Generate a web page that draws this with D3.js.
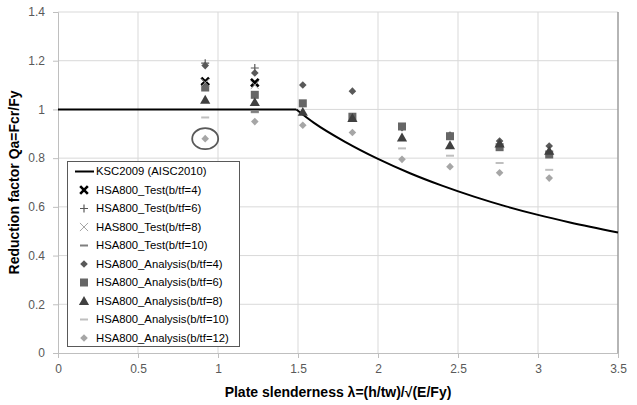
<!DOCTYPE html>
<html lang="en">
<head>
<meta charset="UTF-8">
<title>Reduction factor</title>
<script src="https://d3js.org/d3.v7.min.js"></script>
<style>
  body { margin: 0; background: #fff; }
  text { font-family: "Liberation Sans", Arial, sans-serif; }
  .tick text { fill: #595959; font-size: 12px; }
  .grid line { stroke: #d9d9d9; stroke-width: 1; }
  .axis-title { font-weight: bold; font-size: 14px; fill: #000; }
  .legend text { font-size: 11.3px; fill: #000; }
</style>
</head>
<body>
<div id="chart"></div>
<script>
// DATA
const xTicks = [0, 0.5, 1, 1.5, 2, 2.5, 3, 3.5];
const yTicks = [0, 0.2, 0.4, 0.6, 0.8, 1, 1.2, 1.4];

// KSC2009 (AISC2010) design curve: flat part, then the falling part
const kscFlatLambda = [0, 1.49];
const kscFlatQ      = [1, 1];
const kscLambda = [1.49, 1.6, 1.8, 2.0, 2.2, 2.4, 2.6, 2.8, 3.0, 3.2, 3.5];
const kscQ      = [1, 0.945, 0.865, 0.797, 0.738, 0.687, 0.642, 0.602, 0.567, 0.536, 0.495];

// test results
const testLambda = [0.92, 1.23];
const testB4  = [1.115, 1.11];
const testB6  = [1.19, 1.17];
const testB8  = [1.11, 1.10];
const testB10 = [null, 0.99];

// analysis results
const anaLambda = [0.92, 1.23, 1.53, 1.84, 2.15, 2.45, 2.76, 3.07];
const anaB4  = [1.18, 1.15, 1.10, 1.075, 0.925, 0.895, 0.87, 0.85];
const anaB6  = [1.09, 1.06, 1.025, 0.97, 0.93, 0.89, 0.845, 0.815];
const anaB8  = [1.04, 1.03, 0.99, 0.965, 0.885, 0.853, 0.86, 0.83];
const anaB10 = [0.967, 0.988, null, null, 0.84, 0.81, 0.78, 0.752];
const anaB12 = [0.88, 0.95, 0.935, 0.905, 0.795, 0.765, 0.74, 0.718];

// circled point
const circled = [0.92, 0.88];

// SETUP
const width = 637, height = 405;
const margin = {left: 58, right: 19, top: 12, bottom: 52};

const svg = d3.select("#chart").append("svg")
  .attr("width", width).attr("height", height);

const x = d3.scaleLinear().domain([0, 3.5]).range([margin.left, width - margin.right]);
const y = d3.scaleLinear().domain([0, 1.4]).range([height - margin.bottom, margin.top]);

// gridlines
svg.append("g").attr("class", "grid")
  .selectAll("line").data(yTicks.slice(1)).join("line")
  .attr("x1", x(0)).attr("x2", x(3.5))
  .attr("y1", d => y(d)).attr("y2", d => y(d));
svg.append("g").attr("class", "grid")
  .selectAll("line").data(xTicks.slice(1)).join("line")
  .attr("y1", y(0)).attr("y2", y(1.4))
  .attr("x1", d => x(d)).attr("x2", d => x(d));
// right edge looks darker in the original
svg.append("line")
  .attr("x1", x(3.5)).attr("x2", x(3.5)).attr("y1", y(0)).attr("y2", y(1.4))
  .attr("stroke", "#7f7f7f");

// AXES
const xAxis = svg.append("g")
  .attr("transform", "translate(0," + y(0) + ")")
  .call(d3.axisBottom(x).tickValues(xTicks).tickFormat(d3.format("")).tickSize(5).tickPadding(6));
const yAxis = svg.append("g")
  .attr("transform", "translate(" + x(0) + ",0)")
  .call(d3.axisLeft(y).tickValues(yTicks).tickFormat(d3.format("")).tickSize(5).tickPadding(8));
[xAxis, yAxis].forEach(a => {
  a.select(".domain").attr("stroke", "#bfbfbf");
  a.selectAll(".tick line").attr("stroke", "#bfbfbf");
  a.selectAll(".tick text").attr("font-family", "Liberation Sans, Arial, sans-serif");
});

// axis titles
svg.append("text").attr("class", "axis-title")
  .attr("x", (x(0) + x(3.5)) / 2).attr("y", 397)
  .attr("text-anchor", "middle")
  .text("Plate slenderness \u03BB=(h/tw)/\u221A(E/Fy)");
svg.append("text").attr("class", "axis-title")
  .attr("transform", "translate(19," + ((y(0) + y(1.4)) / 2) + ") rotate(-90)")
  .attr("text-anchor", "middle")
  .text("Reduction factor Qa=Fcr/Fy");

// MARKERS
const sym = (type, size) => d3.symbol().type(type).size(size)();
const diamond = r => "M0," + (-r) + "L" + r + ",0L0," + r + "L" + (-r) + ",0Z";
const markers = {
  xbold:   g => g.append("path").attr("d", sym(d3.symbolX, 40)).attr("stroke", "#000").attr("stroke-width", 2.6).attr("fill", "none"),
  plus:    g => g.append("path").attr("d", "M-4,0H4M0,-4V4").attr("stroke", "#595959").attr("stroke-width", 1.2).attr("fill", "none"),
  xthin:   g => g.append("path").attr("d", sym(d3.symbolX, 45)).attr("stroke", "#a6a6a6").attr("stroke-width", 1).attr("fill", "none"),
  dashDk:  g => g.append("line").attr("x1", -4).attr("x2", 4).attr("stroke", "#7f7f7f").attr("stroke-width", 2),
  diaDk:   g => g.append("path").attr("d", diamond(3.8)).attr("fill", "#595959"),
  square:  g => g.append("rect").attr("x", -4).attr("y", -4).attr("width", 8).attr("height", 8).attr("fill", "#666666"),
  tri:     g => g.append("path").attr("d", sym(d3.symbolTriangle, 45)).attr("transform", "translate(0,1)").attr("fill", "#404040"),
  dashLt:  g => g.append("line").attr("x1", -4).attr("x2", 4).attr("stroke", "#bfbfbf").attr("stroke-width", 2),
  diaLt:   g => g.append("path").attr("d", diamond(3.8)).attr("fill", "#a6a6a6")
};

const series = [
  {name: "HSA800_Analysis(b/tf=4)",  xs: anaLambda,  ys: anaB4,  m: "diaDk"},
  {name: "HSA800_Analysis(b/tf=6)",  xs: anaLambda,  ys: anaB6,  m: "square"},
  {name: "HSA800_Analysis(b/tf=8)",  xs: anaLambda,  ys: anaB8,  m: "tri"},
  {name: "HSA800_Analysis(b/tf=10)", xs: anaLambda,  ys: anaB10, m: "dashLt"},
  {name: "HSA800_Analysis(b/tf=12)", xs: anaLambda,  ys: anaB12, m: "diaLt"},
  {name: "HSA800_Test(b/tf=4)",      xs: testLambda, ys: testB4,  m: "xbold"},
  {name: "HSA800_Test(b/tf=6)",      xs: testLambda, ys: testB6,  m: "plus"},
  {name: "HAS800_Test(b/tf=8)",      xs: testLambda, ys: testB8,  m: "xthin"},
  {name: "HSA800_Test(b/tf=10)",     xs: testLambda, ys: testB10, m: "dashDk"}
];

// design curve
const flatLine = d3.line().x(d => x(d[0])).y(d => y(d[1]));
const curveLine = d3.line()
  .x(d => x(d[0])).y(d => y(d[1]))
  .curve(d3.curveMonotoneX);
svg.append("path")
  .datum(kscFlatLambda.map((l, i) => [l, kscFlatQ[i]]))
  .attr("d", flatLine)
  .attr("fill", "none").attr("stroke", "#000").attr("stroke-width", 2);
svg.append("path")
  .datum(kscLambda.map((l, i) => [l, kscQ[i]]))
  .attr("d", curveLine)
  .attr("fill", "none").attr("stroke", "#000").attr("stroke-width", 2)
  .attr("stroke-linejoin", "round");

// points
series.forEach(s => {
  s.xs.forEach((l, i) => {
    if (s.ys[i] == null) return;
    const g = svg.append("g").attr("transform", "translate(" + x(l) + "," + y(s.ys[i]) + ")");
    markers[s.m](g);
  });
});

// circle annotation
svg.append("ellipse")
  .attr("cx", x(circled[0])).attr("cy", y(circled[1]))
  .attr("rx", 13).attr("ry", 10.5)
  .attr("fill", "none").attr("stroke", "#595959").attr("stroke-width", 1.8);

// LEGEND
const legendOrder = [
  {name: "KSC2009 (AISC2010)", m: "curve"},
  {name: "HSA800_Test(b/tf=4)", m: "xbold"},
  {name: "HSA800_Test(b/tf=6)", m: "plus"},
  {name: "HAS800_Test(b/tf=8)", m: "xthin"},
  {name: "HSA800_Test(b/tf=10)", m: "dashDk"},
  {name: "HSA800_Analysis(b/tf=4)", m: "diaDk"},
  {name: "HSA800_Analysis(b/tf=6)", m: "square"},
  {name: "HSA800_Analysis(b/tf=8)", m: "tri"},
  {name: "HSA800_Analysis(b/tf=10)", m: "dashLt"},
  {name: "HSA800_Analysis(b/tf=12)", m: "diaLt"}
];
const legend = svg.append("g").attr("class", "legend");
legend.append("rect")
  .attr("x", 67.5).attr("y", 161.5).attr("width", 172).attr("height", 185)
  .attr("fill", "#fff").attr("stroke", "#595959").attr("stroke-width", 1);
legendOrder.forEach((d, i) => {
  const ly = 171.5 + i * 18.5;
  const g = legend.append("g").attr("transform", "translate(84," + ly + ")");
  if (d.m === "curve") {
    g.append("line").attr("x1", -9).attr("x2", 10).attr("stroke", "#000").attr("stroke-width", 2);
  } else {
    markers[d.m](g);
  }
  legend.append("text").attr("x", 96).attr("y", ly).attr("dy", "0.35em").text(d.name);
});
</script>
</body>
</html>
